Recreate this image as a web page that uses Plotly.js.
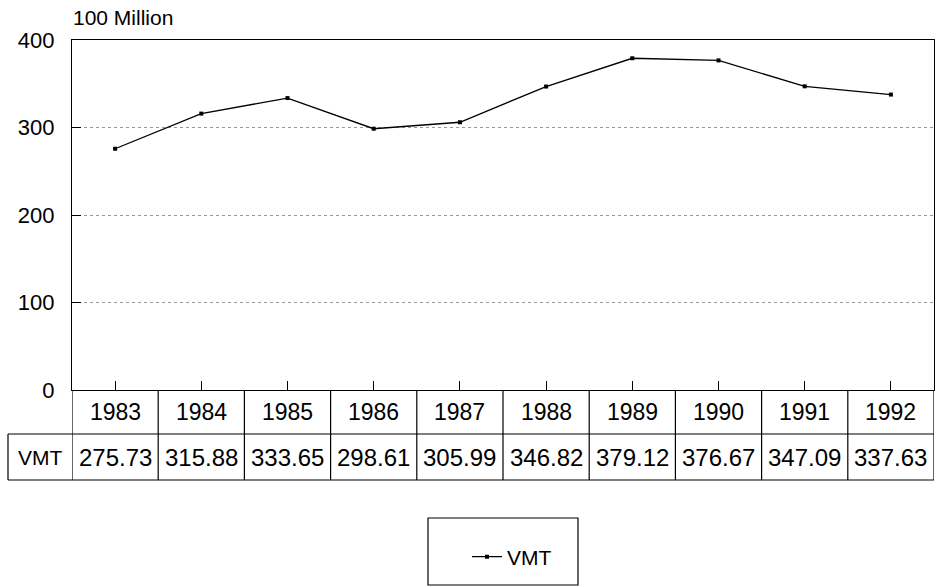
<!DOCTYPE html>
<html>
<head>
<meta charset="utf-8">
<script src="https://cdn.plot.ly/plotly-3.0.1.min.js"></script>
<style>html,body{margin:0;padding:0;background:#fff;}#chart{width:937px;height:587px;}</style>
</head>
<body>
<div id="chart"></div>
<script>
const years = ['1983','1984','1985','1986','1987','1988','1989','1990','1991','1992'];
const vmt = [275.73, 315.88, 333.65, 298.61, 305.99, 346.82, 379.12, 376.67, 347.09, 337.63];
const seriesName = 'VMT';
const unitLabel = '100 Million';
const yTicks = [0, 100, 200, 300, 400];

const FONT = 'Liberation Sans, Arial, sans-serif';
// table geometry in paper units (plot area 862 x 350 px)
const rowYearTop = 0, rowYearBot = -44/350, rowValBot = -90/350;
const labelLeft = -64/862;

const shapes = [];
const annotations = [];
// vertical cell borders
for (let i = 0; i <= years.length; i++) {
  shapes.push({type:'line', xref:'x', yref:'paper', x0:i-0.5, x1:i-0.5, y0:rowYearTop, y1:rowValBot,
    line:{color:'#000', width:1.2}});
}
// horizontal borders
shapes.push({type:'line', xref:'paper', yref:'paper', x0:labelLeft, x1:1, y0:rowYearBot, y1:rowYearBot, line:{color:'#000', width:1.2}});
shapes.push({type:'line', xref:'paper', yref:'paper', x0:labelLeft, x1:1, y0:rowValBot, y1:rowValBot, line:{color:'#000', width:1.2}});
shapes.push({type:'line', xref:'paper', yref:'paper', x0:labelLeft, x1:labelLeft, y0:rowYearBot, y1:rowValBot, line:{color:'#000', width:1.2}});
// legend frame
shapes.push({type:'rect', xref:'paper', yref:'paper', x0:356/862, x1:506/862, y0:-128/350, y1:-195/350, line:{color:'#000', width:1.2}});

years.forEach((y, i) => {
  annotations.push({xref:'x', yref:'paper', x:i, y:(rowYearTop+rowYearBot)/2, text:y, showarrow:false,
    xanchor:'center', yanchor:'middle', font:{family:FONT, size:23, color:'#000'}});
  annotations.push({xref:'x', yref:'paper', x:i, y:(rowYearBot+rowValBot)/2, text:vmt[i].toFixed(2), showarrow:false,
    xanchor:'center', yanchor:'middle', font:{family:FONT, size:24, color:'#000'}});
});
annotations.push({xref:'paper', yref:'paper', x:labelLeft/2, y:(rowYearBot+rowValBot)/2, text:seriesName, showarrow:false,
  xanchor:'center', yanchor:'middle', font:{family:FONT, size:21, color:'#000'}});

const trace = {
  type:'scatter', mode:'lines+markers', x: years, y: vmt, name: seriesName,
  line:{color:'#000', width:1.3}, marker:{color:'#000', size:4, symbol:'square'}
};

const layout = {
  width:937, height:587,
  margin:{l:72, r:3, t:40, b:197},
  paper_bgcolor:'#fff', plot_bgcolor:'#fff',
  font:{family:FONT, color:'#000'},
  title:{text:unitLabel, x:73/937, xanchor:'left', y:1-18/587, yanchor:'middle', font:{family:FONT, size:21, color:'#000'}},
  xaxis:{type:'category', range:[-0.5, years.length-0.5], showline:true, mirror:true, linecolor:'#000', linewidth:1.2,
    ticks:'inside', ticklen:9, tickcolor:'#000', showticklabels:false, showgrid:false, zeroline:false, fixedrange:true},
  yaxis:{range:[0,400], tickvals:yTicks, ticktext:yTicks.map(String), showline:true, mirror:true, linecolor:'#000', linewidth:1.2,
    ticks:'inside', ticklen:9, tickcolor:'#000', showgrid:true, gridcolor:'#999', griddash:'dot', gridwidth:1,
    zeroline:false, ticklabelstandoff:12, tickfont:{family:FONT, size:22, color:'#000'}, fixedrange:true},
  showlegend:true,
  legend:{orientation:'h', x:440/862, xanchor:'center', y:-167/350, yanchor:'middle', borderwidth:0,
    bgcolor:'rgba(0,0,0,0)', font:{family:FONT, size:21, color:'#000'}},
  shapes: shapes,
  annotations: annotations
};

Plotly.newPlot('chart', [trace], layout, {displayModeBar:false, staticPlot:true});
</script>
</body>
</html>
